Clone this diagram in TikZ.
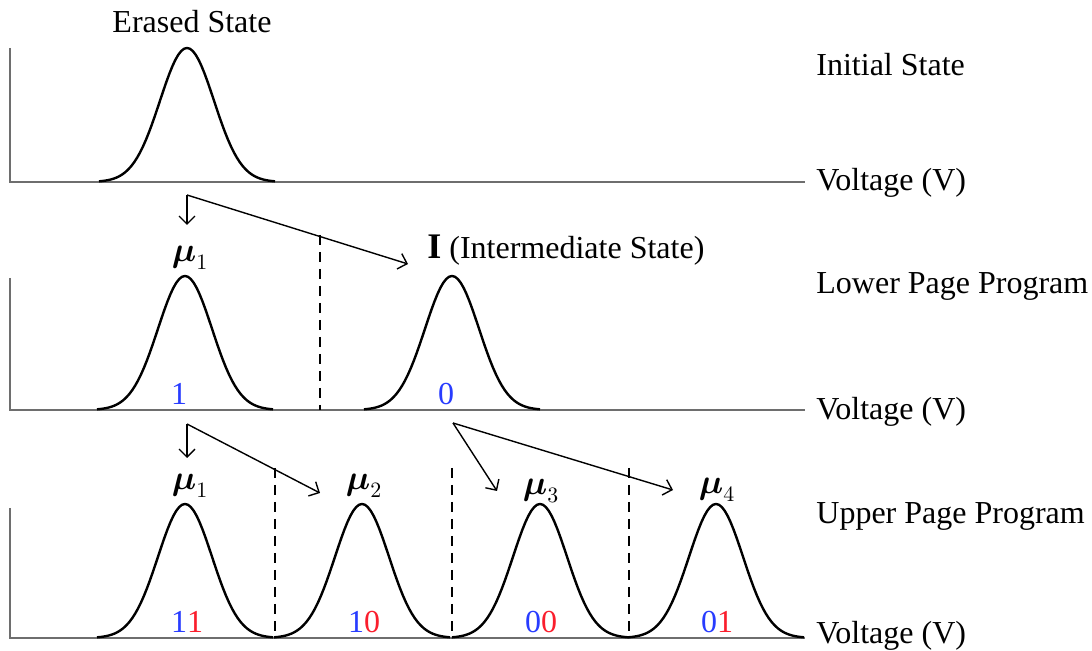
\documentclass[tikz,border=0pt]{standalone}
\usepackage{amsmath}
\usepackage{fontspec}
\setmainfont{Liberation Serif}
\usepackage{xcolor}
\usepackage{tikz}
\usetikzlibrary{arrows.meta}
\definecolor{BitBlue}{RGB}{40,60,255}
\definecolor{BitRed}{RGB}{250,30,45}
\definecolor{AxisGray}{RGB}{110,110,110}

\begin{document}
\begin{tikzpicture}[x=0.5pt,y=-0.5pt,
    axis/.style={draw=AxisGray, line width=0.6pt},
    curve/.style={line width=1.2pt, black},
    cut/.style={line width=0.9pt, dash pattern=on 5pt off 3.5pt},
    move/.style={-{Straight Barb[length=4pt,width=8pt]}, line width=0.7pt},
    txt/.style={font=\fontsize{16}{19}\selectfont, inner sep=0pt}]
  \useasboundingbox (0,0) rectangle (1092,651);
  % axes of the three panels
  \foreach \b/\t in {182/48,410/278,638/508} {
    \draw[axis] (10,\t) -- (10,\b) -- (805,\b);
  }
  % threshold voltage distributions
  \foreach \c/\b in {187/182,185/410,452/410,185/638,362/638,540/638,716/638} {
    \draw[curve] plot[domain=-88:88, samples=61] ({\c+\x},{\b-134*exp(-((\x)^2)/1458)});
  }
  % read references
  \draw[cut] (320,235) -- (320,410);
  \foreach \d in {275,452,629} {
    \draw[cut] (\d,468) -- (\d,638);
  }
  % panel titles
  \node[txt] (erased) at (192,22) {Erased State};
  \node[txt, anchor=west] (initial) at (816,65) {Initial State};
  \node[txt, anchor=west] (volt1) at (816,183) {Voltage (V)};
  \node[txt, anchor=west] (lower) at (816,286) {Lower Page Program};
  \node[txt, anchor=west] (volt2) at (816,412) {Voltage (V)};
  \node[txt, anchor=west] (upper) at (816,516) {Upper Page Program};
  \node[txt, anchor=west] (volt3) at (816,636) {Voltage (V)};
  % state labels
  \node[txt] (mu1a) at (190,258) {$\boldsymbol{\mu}_1$};
  \node[txt, anchor=west] (inter) at (427,250) {{\fontsize{18}{19}\selectfont\textbf{I}} (Intermediate State)};
  \node[txt] (mu1b) at (190,486) {$\boldsymbol{\mu}_1$};
  \node[txt] (mu2) at (364,486) {$\boldsymbol{\mu}_2$};
  \node[txt] (mu3) at (541,491) {$\boldsymbol{\mu}_3$};
  \node[txt] (mu4) at (717,490) {$\boldsymbol{\mu}_4$};
  % bit values
  \node[txt, text=BitBlue] (bit1) at (179,394) {1};
  \node[txt, text=BitBlue] (bit0) at (446,394) {0};
  \node[txt] (bit11) at (187,622) {\textcolor{BitBlue}{1}\textcolor{BitRed}{1}};
  \node[txt] (bit10) at (364,622) {\textcolor{BitBlue}{1}\textcolor{BitRed}{0}};
  \node[txt] (bit00) at (541,622) {\textcolor{BitBlue}{0}\textcolor{BitRed}{0}};
  \node[txt] (bit01) at (717,622) {\textcolor{BitBlue}{0}\textcolor{BitRed}{1}};
  % programming steps
  \coordinate (e0) at (187,195);
  \coordinate (e1) at (187,225);
  \coordinate (eI) at (408,264);
  \draw[move] (e0) -- (e1);
  \draw[move] (e0) -- (eI);
  \coordinate (l0) at (187,424);
  \coordinate (l1) at (187,458);
  \coordinate (l2) at (320,493);
  \draw[move] (l0) -- (l1);
  \draw[move] (l0) -- (l2);
  \coordinate (h0) at (453,423);
  \coordinate (h3) at (497,491);
  \coordinate (h4) at (673,490);
  \draw[move] (h0) -- (h3);
  \draw[move] (h0) -- (h4);
\end{tikzpicture}
\end{document}
